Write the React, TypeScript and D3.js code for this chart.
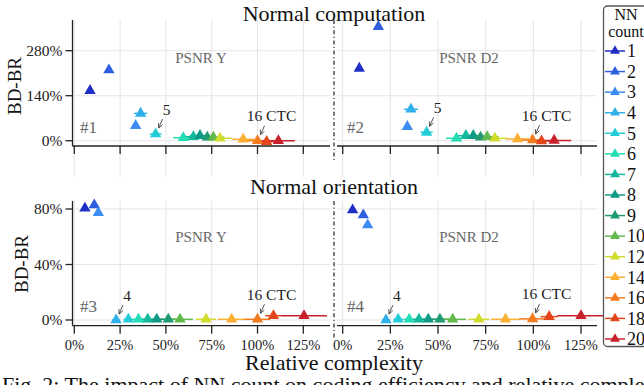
import React from "react";
import * as d3 from "d3";

// NN count series
const nnCounts = [1, 2, 3, 4, 5, 6, 7, 8, 9, 10, 12, 14, 16, 18, 20];
const nnColors = [
  "#1f2ec4", "#2f5fe0", "#3c8cf2", "#2fb0ea", "#24ccd8",
  "#22dcb4", "#12b89c", "#0f9a86", "#1f9a72", "#62b94c",
  "#d2dc2c", "#fbb034", "#f47a1e", "#e2461a", "#c8202c",
];

// relative complexity (%) and BD-BR (%) per panel
const compYX = [8.6, 18.9, 33.5, 36.2, 44.4, 59.5, 65.0, 68.6, 72.6, 75.9, 79.5, 92.2, 100, 105, 111.4];
const compYY = [155.6, 220, 47, 85, 20.8, 9.3, 12.4, 15.6, 10.6, 10.6, 7.5, 4.3, 0, -3, 0];
const compD2X = [8.7, 18.7, 33.9, 35.8, 44.0, 59.7, 64.6, 68.5, 72.3, 75.8, 79.8, 91.7, 99.6, 104.3, 110.9];
const compD2Y = [225, 355, 43.6, 97.7, 26, 7.5, 15.6, 15.6, 10.6, 12.4, 7.5, 5.3, 2, -1, 1];
const compErr = [0.5, 1, 1.5, 3.6, 3.2, 5.5, 5.5, 5.5, 6, 6, 6.5, 6, 6, 6, 9];

const oriYX = [5.8, 10.9, 13.1, 22.8, 29.5, 35, 40.1, 45, 51.3, 57.7, 71.9, 85.9, 100, 108.7, 125.4];
const oriYY = [80.5, 82.9, 77.3, 0, 0.5, 0.5, 0.5, 0.5, 0.5, 0.5, 0.5, 0.5, 0.5, 3.1, 3];
const oriD2X = [5.2, 10.8, 13.1, 22.7, 29.1, 34.9, 40, 44.9, 51, 57.7, 71.4, 85.4, 99.6, 108.3, 125];
const oriD2Y = [79.3, 75.7, 68.5, 0, 0.5, 0.5, 0.5, 0.5, 0.5, 0.5, 0.5, 0.5, 0.8, 2.4, 3.1];
const oriErr = [0.5, 0.5, 0.5, 2, 2.5, 3, 3.5, 4, 5, 7, 5.5, 7.5, 7, 4.5, 12.5];

const xTicks = [0, 25, 50, 75, 100, 125];
const compYTicks = [0, 140, 280];
const oriYTicks = [0, 40, 80];

const serif = "Liberation Serif, Times New Roman, DejaVu Serif, serif";

const rows = [
  { title: "Normal computation", top: 20, axisY: 146, gridBottom: 177, yScale: d3.scaleLinear().domain([0, 280]).range([140.7, 50.7]), yTicks: compYTicks, labelX: 14, labelY: 86, titleY: 21 },
  { title: "Normal orientation", top: 201, axisY: 325.7, gridBottom: 325.7, yScale: d3.scaleLinear().domain([0, 80]).range([320, 209]), yTicks: oriYTicks, labelX: 21.5, labelY: 264, titleY: 194 },
];
const cols = [
  { left: 72.5, right: 330, xScale: d3.scaleLinear().domain([0, 125]).range([74.3, 303.3]), metric: "PSNR Y", metricX: 201 },
  { left: 337, right: 597, xScale: d3.scaleLinear().domain([0, 125]).range([342.7, 581]), metric: "PSNR D2", metricX: 469 },
];
const panelData = [
  [{ xs: compYX, ys: compYY, err: compErr, tag: "#1", near: 4 }, { xs: compD2X, ys: compD2Y, err: compErr, tag: "#2", near: 4 }],
  [{ xs: oriYX, ys: oriYY, err: oriErr, tag: "#3", near: 3 }, { xs: oriD2X, ys: oriD2Y, err: oriErr, tag: "#4", near: 3 }],
];

const tri = d3.symbol().type(d3.symbolTriangle).size(56)();
const triSmall = d3.symbol().type(d3.symbolTriangle).size(42)();

const Arrow = ({ px, py, label, dx }: { px: number; py: number; label: string; dx: number }) => {
  const x1 = px + 7, y1 = py - 15, x2 = px + 3, y2 = py - 6;
  const ang = Math.atan2(y2 - y1, x2 - x1);
  const h = 5;
  const a1 = ang + Math.PI - 0.45, a2 = ang + Math.PI + 0.45;
  return (
    <g stroke="#444" strokeWidth={0.9} fill="none">
      <line x1={x1} y1={y1} x2={x2} y2={y2} />
      <polyline points={`${x2 + h * Math.cos(a1)},${y2 + h * Math.sin(a1)} ${x2},${y2} ${x2 + h * Math.cos(a2)},${y2 + h * Math.sin(a2)}`} />
      <text x={px + dx} y={py - 19.5} stroke="none" fill="#222" fontSize={15.5} textAnchor="middle">{label}</text>
    </g>
  );
};

export default function App() {
  return (
    <div style={{ position: "absolute", left: 0, top: 0 }}>
      <svg width={644} height={385} style={{ display: "block", background: "#fff", fontFamily: serif }}>
        {rows.map((row, ri) => (
          <g key={ri}>
            <text x={334} y={row.titleY} fontSize={22} textAnchor="middle" fill="#111">{row.title}</text>
            <text transform={`translate(${row.labelX},${row.labelY}) rotate(-90)`} fontSize={19} textAnchor="middle" dy="0.35em" fill="#111">BD-BR</text>
            {/* dash-dot separator */}
            <line x1={334} x2={334} y1={row.top} y2={ri === 0 ? 160 : 338} stroke="#333" strokeWidth={1.3} strokeDasharray="4,2.5,1.2,2.5" />
            {cols.map((col, ci) => {
              const pd = panelData[ri][ci];
              const xs = col.xScale, ys = row.yScale;
              return (
                <g key={ci}>
                  {row.yTicks.map((t) => (
                    <line key={"h" + t} x1={col.left} x2={col.right} y1={ys(t)} y2={ys(t)} stroke="#e6e6e6" strokeWidth={1.1} />
                  ))}
                  {xTicks.map((t) => (
                    <line key={"v" + t} x1={xs(t)} x2={xs(t)} y1={row.top} y2={row.gridBottom} stroke="#e6e6e6" strokeWidth={1.1} />
                  ))}
                  <text x={col.metricX} y={ri === 0 ? 63 : 241.5} fontSize={15} textAnchor="middle" fill="#666">{col.metric}</text>
                  <text x={ci === 0 ? 80 : 347} y={ri === 0 ? 133 : 312} fontSize={17} fill="#666">{pd.tag}</text>
                  {/* x axis */}
                  <line x1={col.left} x2={col.right} y1={row.axisY} y2={row.axisY} stroke="#222" strokeWidth={1.3} />
                  {xTicks.map((t) => (
                    <line key={"t" + t} x1={xs(t)} x2={xs(t)} y1={row.axisY} y2={row.axisY + 8} stroke="#222" strokeWidth={1.3} />
                  ))}
                  {ri === 1 && xTicks.map((t) => (
                    <text key={"l" + t} x={xs(t)} y={350} fontSize={14.5} textAnchor="middle" fill="#222">{t + "%"}</text>
                  ))}
                  {ci === 0 && (
                    <g>
                      <line x1={col.left} x2={col.left} y1={row.top} y2={row.axisY} stroke="#222" strokeWidth={1.3} />
                      {row.yTicks.map((t) => (
                        <g key={"y" + t}>
                          <line x1={col.left - 7} x2={col.left} y1={ys(t)} y2={ys(t)} stroke="#222" strokeWidth={1.3} />
                          <text x={col.left - 10} y={ys(t)} dy="0.35em" fontSize={15.5} textAnchor="end" fill="#222">{t + "%"}</text>
                        </g>
                      ))}
                    </g>
                  )}
                  {/* error bars */}
                  {pd.xs.map((v, i) => (
                    <line key={"e" + i} x1={xs(v - pd.err[i])} x2={xs(v + pd.err[i])} y1={ys(pd.ys[i])} y2={ys(pd.ys[i])} stroke={nnColors[i]} strokeWidth={1.5} />
                  ))}
                  {pd.xs.map((v, i) => (
                    <path key={"p" + i} d={tri} transform={`translate(${xs(v)},${ys(pd.ys[i])})`} fill={nnColors[i]} />
                  ))}
                  <Arrow px={xs(pd.xs[pd.near])} py={ys(pd.ys[pd.near])} label={String(nnCounts[pd.near])} dx={11} />
                  <Arrow px={xs(pd.xs[12])} py={ys(pd.ys[12])} label="16 CTC" dx={14} />
                </g>
              );
            })}
          </g>
        ))}
        <text x={334} y={370} fontSize={22} textAnchor="middle" fill="#111">Relative complexity</text>
        <text x={2} y={392} fontSize={22} fill="#111">Fig. 2: The impact of NN count on coding efficiency and relative complexity</text>
        {/* legend */}
        <g>
          <rect x={603.5} y={6} width={60} height={340.5} rx={4} fill="#fff" stroke="#555" strokeWidth={1.3} />
          <text x={626} y={19.5} fontSize={16} textAnchor="middle" fill="#111">NN</text>
          <text x={626} y={37} fontSize={16} textAnchor="middle" fill="#111">count</text>
          {nnCounts.map((n, i) => {
            const y = 51 + i * 20.57;
            return (
              <g key={n}>
                <line x1={605} x2={625} y1={y} y2={y} stroke={nnColors[i]} strokeWidth={1.5} />
                <path d={triSmall} transform={`translate(615,${y})`} fill={nnColors[i]} />
                <text x={627} y={y} dy="0.35em" fontSize={18} fill="#111">{n}</text>
              </g>
            );
          })}
        </g>
      </svg>
    </div>
  );
}
